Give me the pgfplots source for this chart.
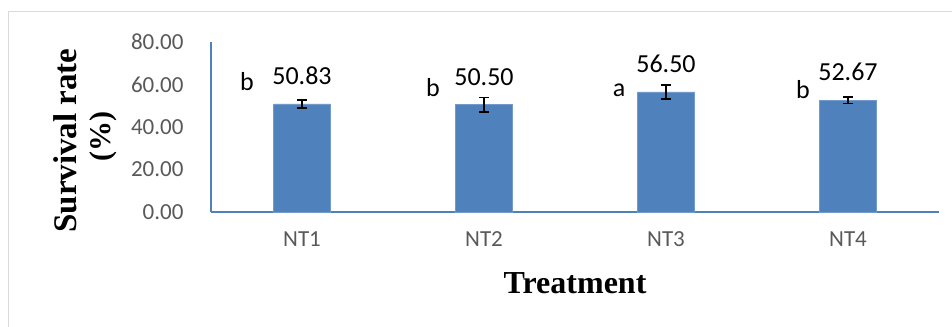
\documentclass[border=0pt]{standalone}
\usepackage{fontspec}
\setmainfont{Liberation Serif}
\newfontfamily\calibri{Carlito}
\usepackage{pgfplots}
\pgfplotsset{compat=1.18}
\definecolor{barblue}{HTML}{4F81BD}
\definecolor{ticgray}{HTML}{595959}
\definecolor{framegray}{HTML}{D9D9D9}
\begin{document}
\begin{tikzpicture}
\useasboundingbox (0,0) rectangle (952bp,327bp);
\begin{scope}
\clip (0,0) rectangle (952bp,327bp);
\draw[framegray, line width=1bp] (8bp,315bp) rectangle (1000bp,-50bp);
\end{scope}
\begin{axis}[
  at={(211bp,115bp)}, anchor=south west,
  scale only axis, width=728bp, height=170bp,
  xmin=-0.5, xmax=3.5, ymin=0, ymax=80,
  enlargelimits=false,
  axis x line=bottom, axis y line=left,
  axis line style={barblue, line width=1.75bp, -},
  major tick length=0pt,
  xtick={0,1,2,3}, xticklabels={NT1,NT2,NT3,NT4},
  ytick={0,20,40,60,80}, yticklabels={0.00,20.00,40.00,60.00,80.00},
  /pgf/number format/assume math mode=true,
  ticklabel style={font=\calibri\fontsize{23bp}{27bp}\selectfont, text=ticgray},
  yticklabel style={xshift=-24bp},
  xticklabel style={yshift=-16bp},
  clip=false,
]
\addplot[ybar, bar width=57bp, fill=barblue, draw=barblue!80!white, line width=0.5bp,
  error bars/.cd, y dir=both, y explicit,
  error bar style={black, line width=1.5bp},
  error mark options={black, rotate=90, mark size=5bp, line width=1.5bp}]
  coordinates {
    (0,50.83) +- (0,1.9)
    (1,50.50) +- (0,3.4)
    (2,56.50) +- (0,3.3)
    (3,52.67) +- (0,1.55)
  };
\begin{scope}[every node/.style={font=\calibri\fontsize{26bp}{30bp}\selectfont, text=black}]
\node at (axis cs:0,64.0) {50.83};
\node at (axis cs:1,63.5) {50.50};
\node at (axis cs:2,69.6) {56.50};
\node at (axis cs:3,65.9) {52.67};
\node at (axis cs:-0.302,61.2) {b};
\node at (axis cs:0.72,58.4) {b};
\node at (axis cs:1.742,57.4) {a};
\node at (axis cs:2.753,57.8) {b};
\end{scope}
\end{axis}
\node[font=\bfseries\fontsize{32bp}{36bp}\selectfont] at (575bp,44bp) {Treatment};
\node[font=\bfseries\fontsize{33bp}{38bp}\selectfont, rotate=90] at (65bp,186.5bp) {Survival rate};
\node[font=\bfseries\fontsize{30bp}{36bp}\selectfont, rotate=90] at (103bp,190bp) {(\%)};
\end{tikzpicture}
\end{document}
